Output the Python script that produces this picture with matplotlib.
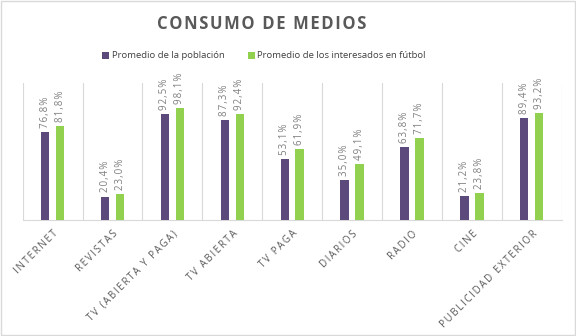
import matplotlib
matplotlib.use("Agg")
import matplotlib.pyplot as plt
import numpy as np
from matplotlib.patches import Rectangle

categories = ["INTERNET", "REVISTAS", "TV (ABIERTA Y PAGA)", "TV ABIERTA", "TV PAGA",
              "DIARIOS", "RADIO", "CINE", "PUBLICIDAD EXTERIOR"]
poblacion = [76.8, 20.4, 92.5, 87.3, 53.1, 35.0, 63.8, 21.2, 89.4]
futbol = [81.8, 23.0, 98.1, 92.4, 61.9, 49.1, 71.7, 23.8, 93.2]
series_names = ["Promedio de la población", "Promedio de los interesados en fútbol"]
title = "CONSUMO DE MEDIOS"

PURPLE = "#5C4A7C"
GREEN = "#92D050"
TXT = "#595959"
LBL = "#7F7F7F"
FAM = ["Open Sans", "DejaVu Sans"]

def spaced(s, sep="\u2009"):
    return sep.join(list(s))

fig = plt.figure(figsize=(5.76, 3.36), dpi=100)
fig.patches.append(Rectangle((0.002, 0.003), 0.996, 0.994, transform=fig.transFigure,
                             fill=False, edgecolor="#D9D9D9", lw=1))
ax = fig.add_axes([22.7/576, 1-220/336, (561.7-22.7)/576, (220-82.7)/336])

x = np.arange(len(categories))
w = 0.14
off = 0.125
b1 = ax.bar(x - off, poblacion, w, color=PURPLE, label=series_names[0], zorder=3)
b2 = ax.bar(x + off, futbol, w, color=GREEN, label=series_names[1], zorder=3)

for bars, vals in ((b1, poblacion), (b2, futbol)):
    for b, v in zip(bars, vals):
        ax.annotate(spaced(f"{v:.1f}%".replace(".", ","), "\u200a"),
                    (b.get_x() + b.get_width()/2, v), xytext=(0, 3),
                    textcoords="offset points", rotation=90, ha="center", va="bottom",
                    fontsize=7, color=LBL, family=FAM)

ax.set_xlim(-0.5, len(categories) - 0.5)
ax.set_ylim(0, 120)
ax.set_yticks([])
for xb in np.arange(-0.5, len(categories), 1.0):
    ax.axvline(xb, color="#D9D9D9", lw=0.8, zorder=1)
for s in ["top", "right", "left"]:
    ax.spines[s].set_visible(False)
ax.spines["bottom"].set_color("#D9D9D9")
ax.set_xticks(x)
ax.set_xticklabels([spaced(c) for c in categories], rotation=45, ha="right",
                   va="top", rotation_mode="anchor", fontsize=7, color=TXT, family=FAM)
ax.tick_params(axis="x", length=0, pad=6)

fig.text(262/576, 1-24/336, spaced(title, "\u200a"), ha="center", va="center", fontsize=12,
         fontweight="bold", color=TXT, family=FAM)

leg = fig.legend(handles=[b1, b2], labels=series_names, loc="center",
                 bbox_to_anchor=(264/576, 1-56/336), ncol=2, frameon=False,
                 handlelength=0.7, handleheight=0.7, handletextpad=0.3, columnspacing=2.5,
                 prop={"family": FAM, "size": 6.8})
for t in leg.get_texts():
    t.set_color("#404040")

fig.savefig("out.png", dpi=100, facecolor="white")
